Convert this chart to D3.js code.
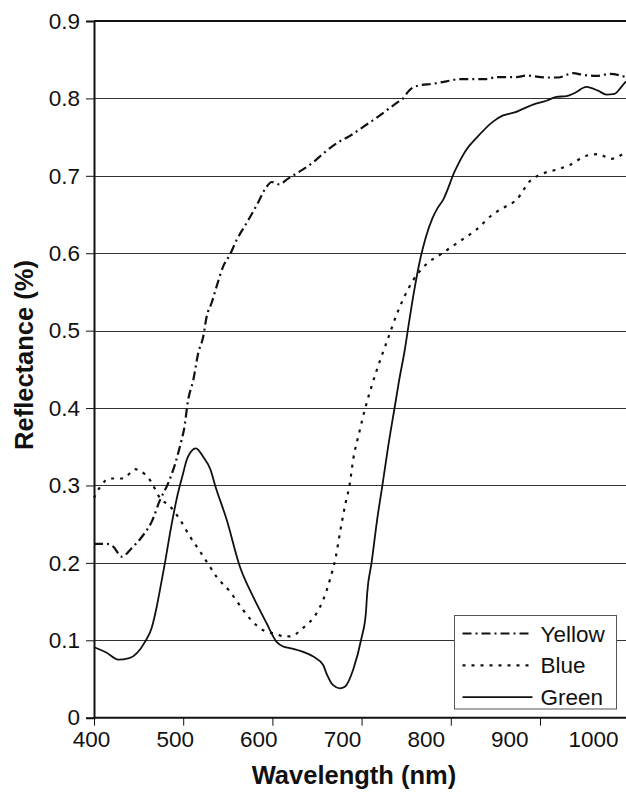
<!DOCTYPE html>
<html>
<head>
<meta charset="utf-8">
<script src="https://cdn.jsdelivr.net/npm/d3@7"></script>
<style>
  body { margin: 0; background: #fff; }
  svg { display: block; font-family: "Liberation Sans", Arial, sans-serif; }
</style>
</head>
<body>
<div id="chart"></div>
<script>
// data (wavelength nm, reflectance)
var yellowWl = [403.6, 418.7, 426.6, 436.7, 448.6, 462.5, 472.5, 482.4, 492.3, 500.3, 508.3, 511.1, 516.2, 522.2, 528.2, 534.1, 538.2, 544.2, 550.1, 558, 566, 574, 586, 598, 610, 616, 625, 635, 650, 665, 680, 695, 710, 725, 740, 755, 765, 773, 780, 791, 809, 824.9, 840.7, 872.6, 884.6, 908.5, 920.4, 944.3, 958.2, 976, 988, 1004, 1020, 1039.4];
var yellowR = [0.2245, 0.2245, 0.221, 0.208, 0.219, 0.236, 0.253, 0.281, 0.303, 0.327, 0.359, 0.372, 0.411, 0.436, 0.471, 0.492, 0.518, 0.536, 0.557, 0.583, 0.598, 0.617, 0.639, 0.662, 0.686, 0.692, 0.689, 0.696, 0.706, 0.717, 0.731, 0.743, 0.752, 0.763, 0.774, 0.786, 0.794, 0.800, 0.810, 0.8165, 0.819, 0.822, 0.825, 0.825, 0.8275, 0.8275, 0.8295, 0.827, 0.827, 0.8326, 0.8305, 0.829, 0.8317, 0.8275];

var blueWl = [403.6, 410.8, 422.7, 438.6, 452.6, 458.5, 470.5, 482.4, 494.4, 506.3, 518.3, 530.2, 542.1, 550.1, 566, 581.9, 589.9, 605.8, 621.8, 630, 637.7, 653.6, 669.6, 677.5, 685.5, 692.6, 697.4, 703.4, 709.4, 713.3, 720.5, 727.3, 735.3, 745, 755, 765, 775, 785, 800, 820, 840, 860, 880, 895, 908.5, 924.4, 940.3, 956.2, 972.2, 992, 1006, 1022, 1033.9, 1039.4];
var blueR = [0.284, 0.298, 0.309, 0.309, 0.321, 0.319, 0.307, 0.284, 0.273, 0.256, 0.234, 0.215, 0.195, 0.182, 0.163, 0.139, 0.128, 0.113, 0.108, 0.105, 0.105, 0.116, 0.135, 0.152, 0.178, 0.208, 0.238, 0.273, 0.303, 0.333, 0.368, 0.398, 0.428, 0.46, 0.49, 0.52, 0.545, 0.565, 0.585, 0.6, 0.615, 0.63, 0.65, 0.66, 0.669, 0.693, 0.703, 0.708, 0.714, 0.726, 0.728, 0.722, 0.727, 0.731];

var greenWl = [403.6, 418.7, 432.6, 445.8, 464.5, 472.5, 478.5, 482.4, 488.4, 494.4, 503.1, 510.2, 514.3, 519, 525.4, 534.1, 543, 548.1, 562.1, 578, 593.9, 609.9, 621.8, 629.7, 637.7, 653.6, 665.6, 677.5, 681.5, 689.4, 697.4, 703.4, 713.3, 723.3, 728.5, 730.1, 735.3, 742, 748.4, 755.1, 763.1, 768.3, 775, 780, 786, 793, 800, 808, 814, 820.8, 834.8, 848.8, 860.7, 880.5, 892.5, 906.4, 928.3, 944.3, 956.2, 968.2, 978.1, 992, 1006, 1016, 1025.9, 1033.9, 1039.4];
var greenR = [0.091, 0.084, 0.075, 0.077, 0.098, 0.116, 0.143, 0.165, 0.200, 0.238, 0.286, 0.316, 0.333, 0.343, 0.348, 0.337, 0.320, 0.301, 0.256, 0.195, 0.156, 0.122, 0.098, 0.092, 0.090, 0.085, 0.079, 0.068, 0.057, 0.042, 0.038, 0.040, 0.062, 0.103, 0.135, 0.161, 0.200, 0.256, 0.301, 0.350, 0.402, 0.436, 0.475, 0.51, 0.55, 0.59, 0.62, 0.645, 0.658, 0.669, 0.706, 0.734, 0.749, 0.770, 0.778, 0.782, 0.792, 0.797, 0.802, 0.803, 0.807, 0.815, 0.810, 0.805, 0.806, 0.815, 0.822];

var xLabels = [400, 500, 600, 700, 800, 900, 1000];
// excel puts the tick marks between categories, not under the labels
var xTickMarks = [403.6, 510.2, 616.8, 723.4, 830, 936.6];
var yTicks = [0, 0.1, 0.2, 0.3, 0.4, 0.5, 0.6, 0.7, 0.8, 0.9];

var series = [
  { name: "Yellow", wl: yellowWl, r: yellowR, dash: "9,4,2,4" },
  { name: "Blue", wl: blueWl, r: blueR, dash: "3,6" },
  { name: "Green", wl: greenWl, r: greenR, dash: null }
];

var W = 626, H = 794;
var margin = { left: 94, right: 626, top: 21, bottom: 717.7 };

var svg = d3.select("#chart").append("svg")
  .attr("width", W)
  .attr("height", H);

var x = d3.scaleLinear().domain([403.6, 1039.4]).range([margin.left, margin.right]);
var y = d3.scaleLinear().domain([0, 0.9]).range([margin.bottom, margin.top]);

// gridlines
svg.append("g")
  .selectAll("line")
  .data(yTicks.filter(function (d) { return d > 0 && d < 0.9; }))
  .enter()
  .append("line")
  .attr("x1", margin.left)
  .attr("x2", margin.right)
  .attr("y1", function (d) { return Math.round(y(d)) + 0.5; })
  .attr("y2", function (d) { return Math.round(y(d)) + 0.5; })
  .attr("stroke", "#333")
  .attr("stroke-width", 1);

// top frame line
svg.append("line")
  .attr("x1", margin.left).attr("x2", margin.right)
  .attr("y1", y(0.9)).attr("y2", y(0.9))
  .attr("stroke", "#111").attr("stroke-width", 2);

// y axis
var yAxis = svg.append("g")
  .attr("transform", "translate(" + margin.left + ",0)")
  .call(d3.axisLeft(y).tickValues(yTicks).tickSize(8).tickPadding(6)
    .tickFormat(function (d) { return d === 0 ? "0" : d3.format(".1f")(d); }));
yAxis.select(".domain").attr("stroke", "#111").attr("stroke-width", 2);
yAxis.selectAll(".tick line").attr("stroke", "#111").attr("stroke-width", 1);
yAxis.selectAll("text").attr("font-size", 22.5).attr("fill", "#111")
  .attr("font-family", "Liberation Sans, Arial, sans-serif");

// x axis: labels
var xAxis = svg.append("g")
  .attr("transform", "translate(0," + margin.bottom + ")")
  .call(d3.axisBottom(x).tickValues(xLabels).tickSize(0).tickPadding(13)
    .tickFormat(d3.format("d")));
xAxis.select(".domain").remove();
xAxis.selectAll("text").attr("font-size", 22.5).attr("fill", "#111")
  .attr("font-family", "Liberation Sans, Arial, sans-serif");

// x axis: tick marks and line
var xMarks = svg.append("g")
  .attr("transform", "translate(0," + margin.bottom + ")")
  .call(d3.axisBottom(x).tickValues(xTickMarks).tickSize(8).tickFormat(""));
xMarks.select(".domain")
  .attr("d", "M" + margin.left + ",0H" + margin.right)
  .attr("stroke", "#111").attr("stroke-width", 2);
xMarks.selectAll(".tick line").attr("stroke", "#111").attr("stroke-width", 1);

// curves
var line = d3.line()
  .x(function (d) { return x(d[0]); })
  .y(function (d) { return y(d[1]); })
  .curve(d3.curveMonotoneX);

series.forEach(function (s) {
  var pts = s.wl.map(function (w, i) { return [w, s.r[i]]; });
  svg.append("path")
    .datum(pts)
    .attr("fill", "none")
    .attr("stroke", "#111")
    .attr("stroke-width", s.dash ? 2.2 : 1.8)
    .attr("stroke-dasharray", s.dash)
    .attr("d", line);
});

// legend
var legend = svg.append("g").attr("transform", "translate(454.5,615.5)");
legend.append("rect")
  .attr("width", 162)
  .attr("height", 93.5)
  .attr("fill", "#fff")
  .attr("stroke", "#555")
  .attr("stroke-width", 1);

series.forEach(function (s, i) {
  var ly = 18 + i * 31.8;
  legend.append("line")
    .attr("x1", 8).attr("x2", 78)
    .attr("y1", ly).attr("y2", ly)
    .attr("stroke", "#111")
    .attr("stroke-width", s.dash ? 2.2 : 1.8)
    .attr("stroke-dasharray", s.dash);
  legend.append("text")
    .attr("x", 86)
    .attr("y", ly)
    .attr("dy", "0.36em")
    .attr("font-size", 22.5)
    .attr("fill", "#111")
    .text(s.name);
});

// axis titles
svg.append("text")
  .attr("x", 354)
  .attr("y", 784)
  .attr("text-anchor", "middle")
  .attr("font-size", 25.5)
  .attr("font-weight", "bold")
  .attr("fill", "#111")
  .text("Wavelength (nm)");

svg.append("text")
  .attr("transform", "translate(33,355) rotate(-90)")
  .attr("text-anchor", "middle")
  .attr("font-size", 25.5)
  .attr("font-weight", "bold")
  .attr("fill", "#111")
  .text("Reflectance (%)");
</script>
</body>
</html>
